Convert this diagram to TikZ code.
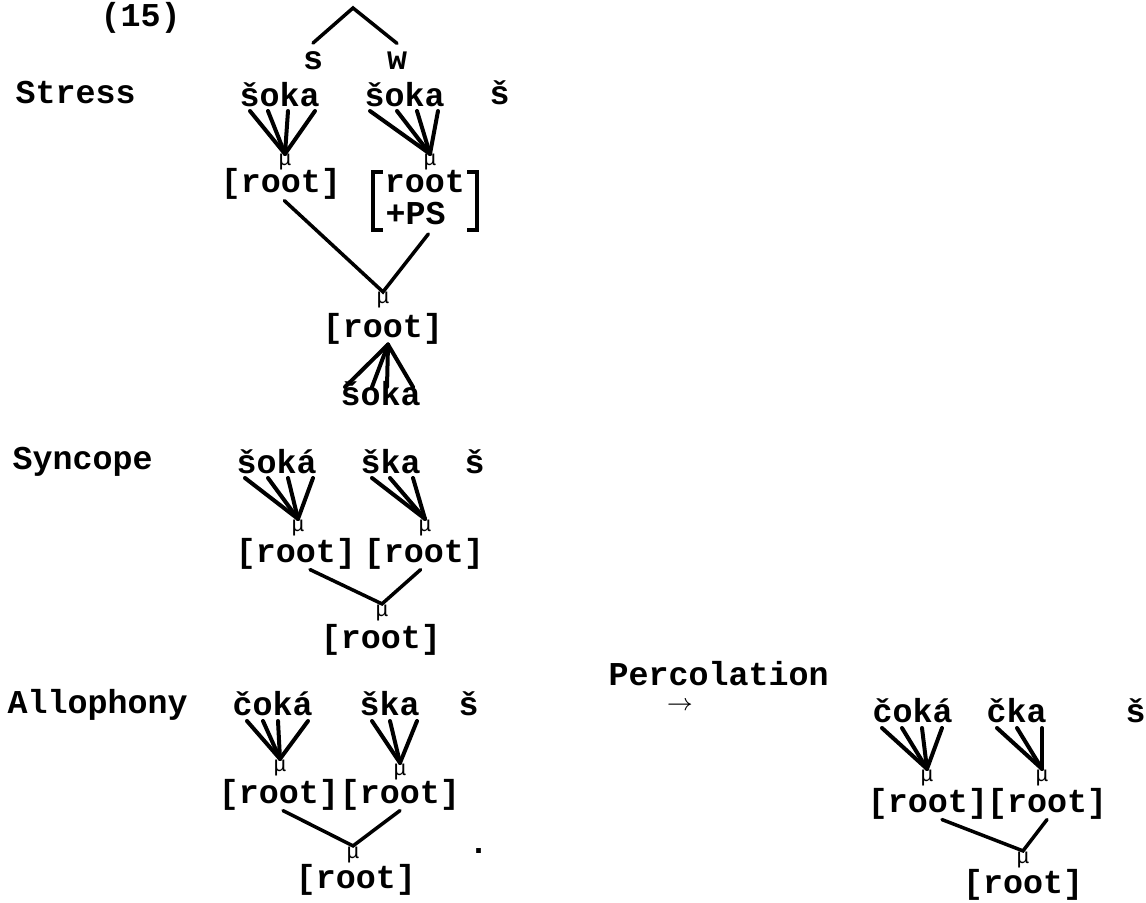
\documentclass[tikz,border=0pt]{standalone}
\usepackage{fontspec}
\setmonofont{Liberation Mono}
\usepackage{tikz}
\usetikzlibrary{calc,positioning}
\tikzset{
  lbl/.style={font=\ttfamily\bfseries,inner sep=0pt,anchor=base west},
  wd/.style={font=\ttfamily\bfseries,inner sep=0pt,anchor=base west},
  rt/.style={font=\ttfamily\bfseries,inner sep=0pt,anchor=base},
  mu/.style={font=\ttfamily\fontsize{6.5}{6.5}\selectfont,inner sep=0pt,anchor=base},
  fan/.style={line width=1.2pt,line cap=round},
  leg/.style={line width=1.05pt,line cap=round},
  brk/.style={line width=1.1pt}
}
\begin{document}
\begin{tikzpicture}[x=0.3pt,y=-0.3pt]
  \useasboundingbox (0,0) rectangle (1146,903);
  \node[lbl] (ex) at (100,27) {(15)};
  % row labels
  \node[lbl] (stress) at (15,104) {Stress};
  \node[lbl] (sync) at (12,470) {Syncope};
  \node[lbl] (allo) at (7,713) {Allophony};
  \node[lbl] (perc) at (608,685) {Percolation};
  \node[font=\scriptsize,inner sep=0pt] (arr) at (680,706) {$\rightarrow$};

  % stress: s w foot over the two copies
  \coordinate (ft) at (353,8);
  \node[rt] (s) at (313,70) {s};
  \node[rt] (w) at (397,70) {w};
  \draw[leg] ([yshift=2.5pt]s.north) -- (ft) -- ([yshift=2.5pt]w.north);
  \node[wd] (wA) at (239,107) {šoka};
  \node[wd] (wB) at (364,107) {šoka};
  \node[wd] (sB) at (489,105) {š};
  \node[mu] (muA) at (285,166) {μ};
  \node[mu] (muB) at (430,166) {μ};
  \foreach \d in {11,29,49,76} \draw[fan] ($(wA.base west)+(\d,4)$) -- (muA.north);
  \foreach \d in {6,33,53,74} \draw[fan] ($(wB.base west)+(\d,4)$) -- (muB.north);
  \node[rt] (rA) at (281,193) {[root]};
  \node[rt] (rB) at (425,193) {root};
  \node[wd] (psB) at (385,225) {+PS};
  \draw[brk] (383,172) -| (373,230) -- (383,230);
  \draw[brk] (467,172) -| (477,230) -- (467,230);
  \node[mu] (muC) at (383,304) {μ};
  \draw[leg] ([xshift=1pt]rA.south) -- (muC.north) -- ($(psB.south east)+(-18,8)$);
  \node[rt] (rC) at (383,337) {[root]};
  \node[wd] (wC) at (340,405) {šoka};
  \foreach \d in {5,32,47,73} \draw[fan] ($(wC.base west)+(\d,-18)$) -- ([xshift=1.5pt]rC.south);

  % syncope
  \node[wd] (wD) at (236,473) {šoká};
  \node[wd] (wE) at (360,473) {ška};
  \node[wd] (sE) at (464,473) {š};
  \node[mu] (muD) at (298,531) {μ};
  \node[mu] (muE) at (425,531) {μ};
  \foreach \d in {9,32,52,77} \draw[fan] ($(wD.base west)+(\d,5)$) -- (muD.north);
  \foreach \d in {12,30,53} \draw[fan] ($(wE.base west)+(\d,5)$) -- (muE.north);
  \node[rt] (rD) at (296,562) {[root]};
  \node[rt] (rE) at (424,562) {[root]};
  \node[mu] (muF) at (382,616) {μ};
  \draw[leg] ([xshift=4.2pt]rD.south) -- (muF.north) -- ([xshift=-1pt]rE.south);
  \node[rt] (rF) at (381,648) {[root]};

  % allophony
  \node[wd] (wG) at (232,715) {čoká};
  \node[wd] (wH) at (359,715) {ška};
  \node[wd] (sH) at (458,715) {š};
  \node[mu] (muG) at (280,771) {μ};
  \node[mu] (muH) at (400,775) {μ};
  \foreach \d in {15,31,46,76} \draw[fan] ($(wG.base west)+(\d,6)$) -- (muG.north);
  \foreach \d in {13,31,58} \draw[fan] ($(wH.base west)+(\d,6)$) -- (muH.north);
  \node[rt] (rG) at (279,803) {[root]};
  \node[rt] (rH) at (400,803) {[root]};
  \node[mu] (muI) at (353,858) {μ};
  \draw[leg] ([xshift=1.2pt]rG.south) -- (muI.north) -- (rH.south);
  \node[rt] (rI) at (356,888) {[root]};
  \node[wd] (dot) at (468,853) {.};

  % after percolation
  \node[wd] (wJ) at (872,722) {čoká};
  \node[wd] (wK) at (986,722) {čka};
  \node[wd] (sK) at (1125,722) {š};
  \node[mu] (muJ) at (927,781) {μ};
  \node[mu] (muK) at (1042,781) {μ};
  \foreach \d in {10,30,50,70} \draw[fan] ($(wJ.base west)+(\d,6)$) -- (muJ.north);
  \foreach \d in {11,31,56} \draw[fan] ($(wK.base west)+(\d,6)$) -- (muK.north);
  \node[rt] (rJ) at (928,812) {[root]};
  \node[rt] (rK) at (1047,812) {[root]};
  \node[mu] (muL) at (1023,863) {μ};
  \draw[leg] ([xshift=4.2pt]rJ.south) -- (muL.north) -- (rK.south);
  \node[rt] (rL) at (1023,893) {[root]};
\end{tikzpicture}
\end{document}
